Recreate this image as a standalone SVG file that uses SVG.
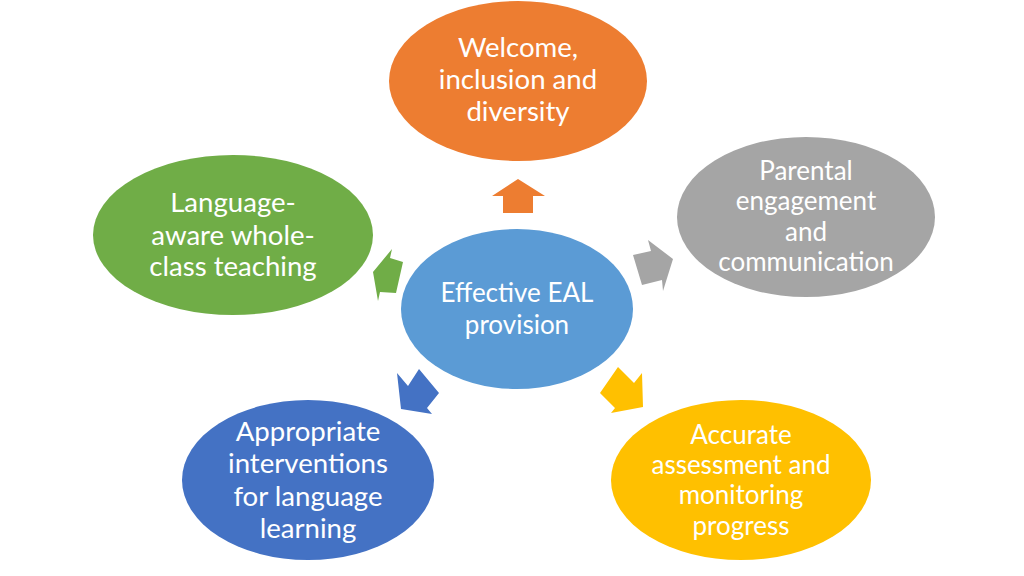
<svg xmlns="http://www.w3.org/2000/svg" width="1024" height="576" viewBox="0 0 1024 576">
<style>
.t{font-family:Lato,"Open Sans","Liberation Sans",sans-serif;font-size:27.6px;fill:#fff;text-anchor:middle}
.s{font-size:26px}
</style>
<rect width="1024" height="576" fill="#fff"/>
<g id="connectors">
<polygon fill="#ED7D31" points="518,179 545,196 533,196 533,213 503,213 503,196 492,196"/>
<polygon fill="#A5A5A5" points="633,255 651,251 648,240 673,259 663,291 662,280 642,285"/>
<polygon fill="#70AD47" points="373,272 392,249 390,258 403,262 396,293 380,292 378,301"/>
<polygon fill="#4472C4" points="401,409 397,373 408,386 419,369 439,393 427,408 432,414"/>
<polygon fill="#FFC000" points="618,367 634,383 642,373 643,407 611,413 615,408 600,393"/>
</g>
<g id="welcome">
<ellipse cx="518" cy="81" rx="129" ry="80" fill="#ED7D31"/>
<text class="t" x="518" y="57">Welcome,</text>
<text class="t" x="518" y="89">inclusion and</text>
<text class="t" x="518" y="121">diversity</text>
</g>
<g id="parental">
<ellipse cx="806" cy="217" rx="129" ry="80" fill="#A5A5A5"/>
<text class="t s" x="806" y="180">Parental</text>
<text class="t s" x="806" y="210">engagement</text>
<text class="t s" x="806" y="241">and</text>
<text class="t s" x="806" y="271">communication</text>
</g>
<g id="language">
<ellipse cx="233" cy="235" rx="140" ry="80" fill="#70AD47"/>
<text class="t" x="233" y="212">Language-</text>
<text class="t" x="233" y="245">aware whole-</text>
<text class="t" x="233" y="276">class teaching</text>
</g>
<g id="center">
<ellipse cx="517" cy="309" rx="116" ry="80" fill="#5B9BD5"/>
<text class="t s" x="517" y="302">Effective EAL</text>
<text class="t s" x="517" y="334">provision</text>
</g>
<g id="interventions">
<ellipse cx="308" cy="480" rx="126" ry="80" fill="#4472C4"/>
<text class="t" x="308" y="441">Appropriate</text>
<text class="t" x="308" y="473">interventions</text>
<text class="t" x="308" y="506">for language</text>
<text class="t" x="308" y="538">learning</text>
</g>
<g id="assessment">
<ellipse cx="741" cy="480" rx="130" ry="80" fill="#FFC000"/>
<text class="t s" x="741" y="444">Accurate</text>
<text class="t s" x="741" y="474">assessment and</text>
<text class="t s" x="741" y="504">monitoring</text>
<text class="t s" x="741" y="535">progress</text>
</g>
</svg>
